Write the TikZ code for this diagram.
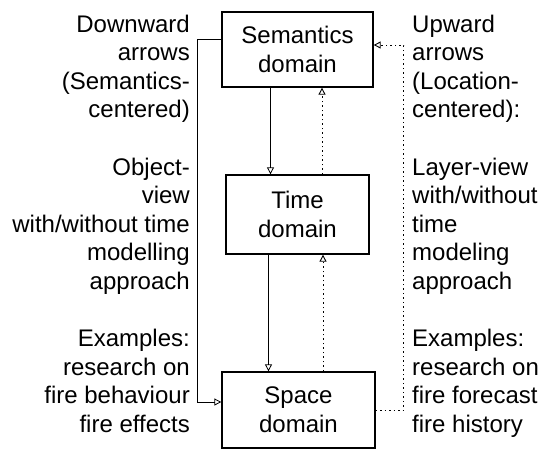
\documentclass[tikz,border=0pt]{standalone}
\usepackage{fontspec}
\setmainfont{Liberation Sans}
\usepackage{tikz}
\usetikzlibrary{arrows.meta}
\tikzset{
  domainbox/.style={draw, line width=1.3pt, align=center, inner sep=0pt},
  downarrow/.style={line width=0.8pt, -{Triangle[open, length=7pt, width=7pt]}},
  uparrow/.style={line width=0.9pt, dash pattern=on 1.5pt off 3pt, -{Triangle[open, length=7pt, width=7pt]}},
  sidetext/.style={inner sep=0pt}
}

\begin{document}
\begin{tikzpicture}[x=1pt, y=-1pt, font=\fontsize{24}{28.6}\selectfont]
\useasboundingbox (0,0) rectangle (541,450);
\node[domainbox, minimum width=151pt, minimum height=75pt] (sem) at (297.5,49.5) {Semantics\\domain};
\node[domainbox, minimum width=143pt, minimum height=79pt] (time) at (297.5,214.5) {Time\\domain};
\node[domainbox, minimum width=153pt, minimum height=76pt] (space) at (298.5,410) {Space\\domain};
\draw[downarrow] ([xshift=-27]sem.south) -- ([xshift=-27]sem.south |- time.north);
\draw[downarrow] ([xshift=-29]time.south) -- ([xshift=-29]time.south |- space.north);
\draw[uparrow] ([xshift=24.5]time.north) -- ([xshift=24.5]time.north |- sem.south);
\draw[uparrow] ([xshift=24.5]space.north) -- ([xshift=24.5]space.north |- time.south);
\draw[downarrow] ([yshift=10.5]sem.west) -- ++(-24,0) |- ([yshift=8]space.west);
\draw[uparrow] (space.east) -- ++(28,0) |- ([yshift=4.5]sem.east);
\node[sidetext, anchor=north east, align=right] (lefttext) at (190,14.5)
  {Downward\\arrows\\(Semantics-\\centered)\\[28.6pt]Object-\\view\\with/without time\\modelling\\approach\\[28.6pt]Examples:\\research on\\fire behaviour\\fire effects};
\node[sidetext, anchor=north west, align=left] (righttext) at (412,14.5)
  {Upward\\arrows\\(Location-\\centered):\\[28.6pt]Layer-view\\with/without\\time\\modeling\\approach\\[28.6pt]Examples:\\research on\\fire forecast\\fire history};
\end{tikzpicture}
\end{document}
